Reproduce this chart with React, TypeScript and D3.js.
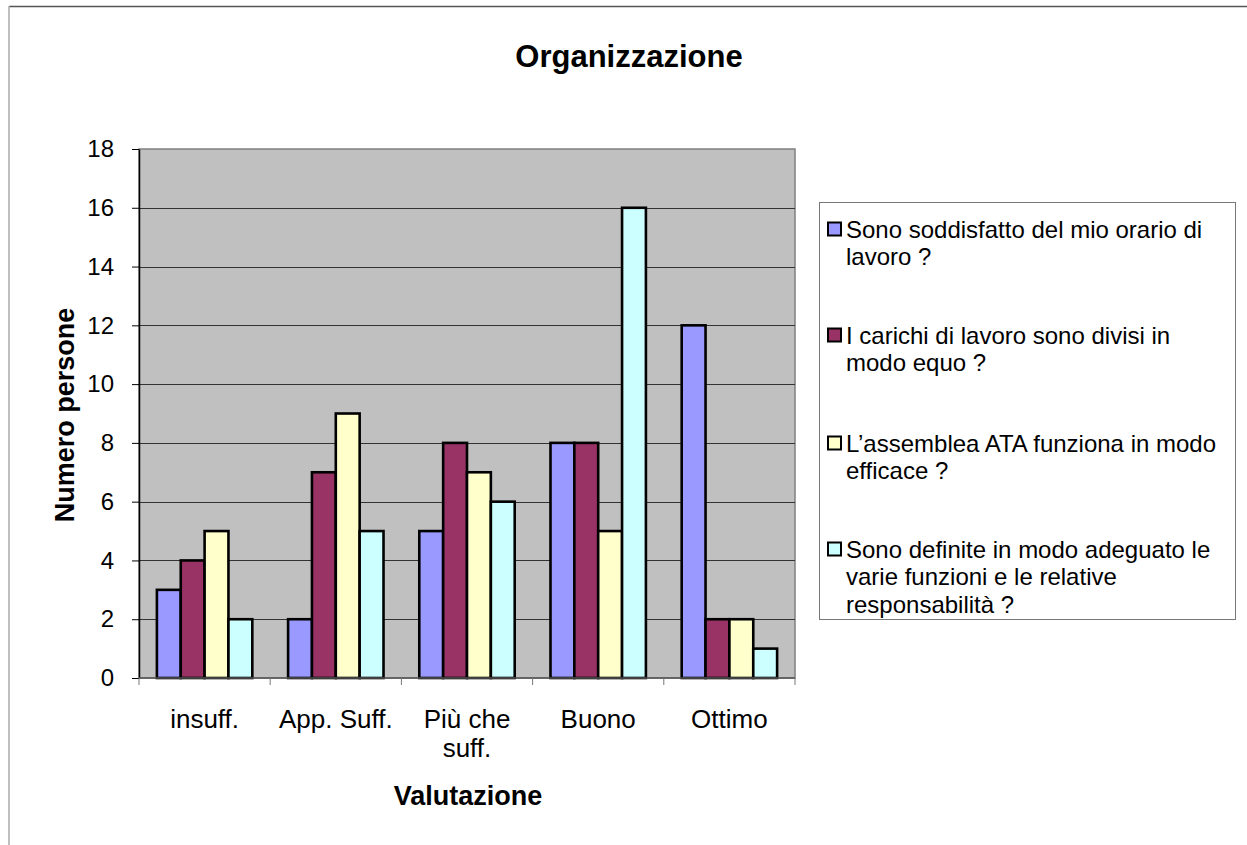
import React, { useRef, useEffect } from "react";
import * as d3 from "d3";

const categories = ["insuff.", "App. Suff.", "Più che suff.", "Buono", "Ottimo"];
const categoryLines = [["insuff."], ["App. Suff."], ["Più che", "suff."], ["Buono"], ["Ottimo"]];
const seriesNames = [
  "Sono soddisfatto del mio orario di lavoro ?",
  "I carichi di lavoro sono divisi in modo equo ?",
  "L’assemblea ATA funziona in modo efficace ?",
  "Sono definite in modo adeguato le varie funzioni e le relative responsabilità ?",
];
const legendLines = [
  ["Sono soddisfatto del mio orario di", "lavoro ?"],
  ["I carichi di lavoro sono divisi in", "modo equo ?"],
  ["L’assemblea ATA funziona in modo", "efficace ?"],
  ["Sono definite in modo adeguato le", "varie funzioni e le relative", "responsabilità ?"],
];
const orario = [3, 2, 5, 8, 12];
const carichi = [4, 7, 8, 8, 2];
const assemblea = [5, 9, 7, 5, 2];
const funzioni = [2, 5, 6, 16, 1];
const seriesValues = [orario, carichi, assemblea, funzioni];
const colors = ["#9999FF", "#993366", "#FFFFCC", "#CCFFFF"];
const yTicks = [0, 2, 4, 6, 8, 10, 12, 14, 16, 18];

const W = 1247;
const H = 845;
const plot = { left: 139, top: 149, right: 795, bottom: 678 };
const font = "Arial, 'Liberation Sans', sans-serif";

const App: React.FC = () => {
  const svgRef = useRef<SVGSVGElement | null>(null);

  useEffect(() => {
    if (!svgRef.current) return;
    const svg = d3.select(svgRef.current);
    svg.selectAll("*").remove();

    const x0 = d3.scaleBand().domain(categories).range([plot.left, plot.right]).paddingInner(0).paddingOuter(0);
    const gapRatio = 1.5;
    const barW = x0.bandwidth() / (4 + gapRatio);
    const y = d3.scaleLinear().domain([0, 18]).range([plot.bottom, plot.top]);

    // outer frame
    svg.append("line").attr("x1", 9).attr("x2", W).attr("y1", 6.5).attr("y2", 6.5)
      .attr("stroke", "#555").attr("stroke-width", 1.5);
    svg.append("line").attr("x1", 9).attr("x2", 9).attr("y1", 6).attr("y2", H)
      .attr("stroke", "#aaa").attr("stroke-width", 1.5);

    // title
    svg.append("text").attr("x", 629).attr("y", 67).attr("text-anchor", "middle")
      .attr("font-family", font).attr("font-size", 31).attr("font-weight", "bold")
      .text("Organizzazione");

    // plot area
    svg.append("rect").attr("x", plot.left).attr("y", plot.top)
      .attr("width", plot.right - plot.left).attr("height", plot.bottom - plot.top)
      .attr("fill", "#C0C0C0").attr("stroke", "#808080").attr("stroke-width", 1.5);

    // gridlines
    svg.append("g").selectAll("line").data(yTicks.filter((d) => d > 0 && d < 18)).enter()
      .append("line")
      .attr("x1", plot.left).attr("x2", plot.right)
      .attr("y1", (d) => Math.round(y(d)) + 0.5).attr("y2", (d) => Math.round(y(d)) + 0.5)
      .attr("stroke", "#333").attr("stroke-width", 1);

    // bars
    seriesValues.forEach((vals, si) => {
      svg.append("g").selectAll("rect").data(vals).enter().append("rect")
        .attr("x", (_, i) => (x0(categories[i]) as number) + barW * (gapRatio / 2) + si * barW)
        .attr("y", (d) => y(d))
        .attr("width", barW)
        .attr("height", (d) => y(0) - y(d))
        .attr("fill", colors[si])
        .attr("stroke", "#000").attr("stroke-width", 2.6);
    });

    // y axis
    const yAxis = svg.append("g").attr("transform", `translate(${plot.left},0)`)
      .call(d3.axisLeft(y).tickValues(yTicks).tickSize(7).tickPadding(18).tickSizeOuter(0));
    yAxis.select(".domain").attr("stroke", "#000").attr("stroke-width", 1.5);
    yAxis.selectAll(".tick line").attr("stroke", "#000");
    yAxis.selectAll("text").attr("font-family", font).attr("font-size", 24).attr("fill", "#000");

    // x axis
    svg.append("line").attr("x1", plot.left).attr("x2", plot.right)
      .attr("y1", plot.bottom).attr("y2", plot.bottom).attr("stroke", "#555").attr("stroke-width", 1.5);
    const bounds = categories.map((c) => x0(c) as number).concat([plot.right]);
    svg.append("g").selectAll("line").data(bounds).enter().append("line")
      .attr("x1", (d) => d).attr("x2", (d) => d)
      .attr("y1", plot.bottom).attr("y2", plot.bottom + 7)
      .attr("stroke", "#777").attr("stroke-width", 1);

    categoryLines.forEach((lines, i) => {
      const cx = (x0(categories[i]) as number) + x0.bandwidth() / 2;
      const t = svg.append("text").attr("text-anchor", "middle")
        .attr("font-family", font).attr("font-size", 26);
      lines.forEach((ln, li) => {
        t.append("tspan").attr("x", cx).attr("y", 728 + li * 29).text(ln);
      });
    });

    // axis titles
    svg.append("text").attr("x", 468).attr("y", 805).attr("text-anchor", "middle")
      .attr("font-family", font).attr("font-size", 27).attr("font-weight", "bold")
      .text("Valutazione");
    svg.append("text").attr("transform", `translate(74,415) rotate(-90)`).attr("text-anchor", "middle")
      .attr("font-family", font).attr("font-size", 27).attr("font-weight", "bold")
      .text("Numero persone");

    // legend
    svg.append("rect").attr("x", 819.5).attr("y", 202.5).attr("width", 416).attr("height", 417)
      .attr("fill", "#fff").attr("stroke", "#777").attr("stroke-width", 1);
    const entryTops = [229, 335, 443, 549];
    seriesNames.forEach((_, si) => {
      const cy = entryTops[si];
      svg.append("rect").attr("x", 828).attr("y", cy - 6.5).attr("width", 13).attr("height", 13)
        .attr("fill", colors[si]).attr("stroke", "#000").attr("stroke-width", 2);
      const t = svg.append("text").attr("font-family", font).attr("font-size", 24);
      legendLines[si].forEach((ln, li) => {
        t.append("tspan").attr("x", 846).attr("y", cy + 8.5 + li * 27.5).text(ln);
      });
    });
  }, []);

  return (
    <svg
      ref={svgRef}
      width={W}
      height={H}
      style={{ position: "absolute", left: 0, top: 0, background: "#fff" }}
    />
  );
};

export default App;
